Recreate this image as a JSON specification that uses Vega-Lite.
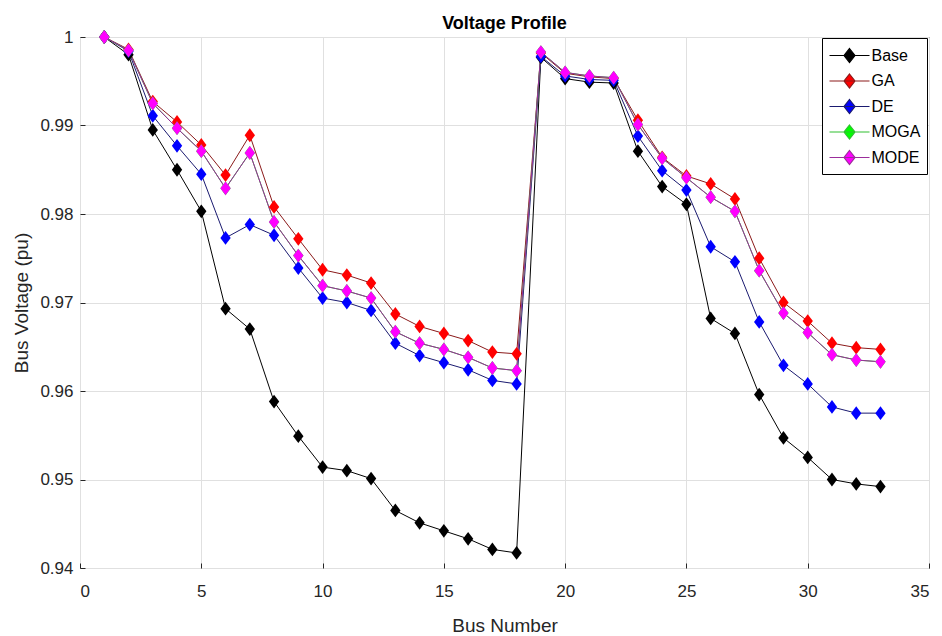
{
  "$schema": "https://vega.github.io/schema/vega-lite/v6.json",
  "width": 849,
  "height": 531,
  "autosize": {"type": "none"},
  "padding": {"left": 80, "top": 37, "right": 13, "bottom": 68},
  "background": "white",
  "title": {"text": "Voltage Profile", "fontSize": 18, "fontWeight": "bold", "font": "Liberation Sans", "color": "#000000", "offset": -5, "anchor": "middle"},
  "config": {
    "font": "Liberation Sans",
    "view": {"stroke": "#262626", "strokeWidth": 1},
    "axis": {
      "domain": false,
      "grid": true,
      "gridColor": "#e0e0e0",
      "gridWidth": 1,
      "ticks": true,
      "tickSize": -5,
      "tickColor": "#262626",
      "labelFont": "Liberation Sans",
      "labelFontSize": 17,
      "labelColor": "#262626",
      "titleFont": "Liberation Sans",
      "titleFontSize": 19,
      "titleFontWeight": "normal",
      "titleColor": "#262626"
    },
    "legend": {
      "orient": "none",
      "legendX": 742,
      "legendY": 1,
      "symbolType": "M-2,0H2M0,-0.7L0.55,0L0,0.7L-0.55,0Z",
      "symbolSize": 400,
      "symbolStrokeWidth": 1.2,
      "symbolOpacity": 1,
      "labelFont": "Liberation Sans",
      "labelFontSize": 16,
      "labelColor": "#000000",
      "padding": 6.5,
      "rowPadding": 4.5,
      "strokeColor": "#000000",
      "fillColor": "#ffffff",
      "symbolOffset": 10,
      "labelOffset": 11
    }
  },
  "data": {"values": [
    {"bus": 1, "Base": 1.0, "GA": 1.0, "DE": 1.0, "MOGA": 1.0, "MODE": 1.0},
    {"bus": 2, "Base": 0.998, "GA": 0.9986, "DE": 0.9984, "MOGA": 0.9985, "MODE": 0.9985},
    {"bus": 3, "Base": 0.9895, "GA": 0.9927, "DE": 0.9911, "MOGA": 0.9925, "MODE": 0.9925},
    {"bus": 4, "Base": 0.985, "GA": 0.9904, "DE": 0.9877, "MOGA": 0.9897, "MODE": 0.9897},
    {"bus": 5, "Base": 0.9803, "GA": 0.9878, "DE": 0.9845, "MOGA": 0.9871, "MODE": 0.9871},
    {"bus": 6, "Base": 0.9693, "GA": 0.9844, "DE": 0.9773, "MOGA": 0.9829, "MODE": 0.9829},
    {"bus": 7, "Base": 0.967, "GA": 0.9889, "DE": 0.9788, "MOGA": 0.9869, "MODE": 0.9869},
    {"bus": 8, "Base": 0.9588, "GA": 0.9808, "DE": 0.9776, "MOGA": 0.9791, "MODE": 0.9791},
    {"bus": 9, "Base": 0.9549, "GA": 0.9772, "DE": 0.9739, "MOGA": 0.9753, "MODE": 0.9753},
    {"bus": 10, "Base": 0.9514, "GA": 0.9737, "DE": 0.9705, "MOGA": 0.9719, "MODE": 0.9719},
    {"bus": 11, "Base": 0.951, "GA": 0.9731, "DE": 0.97, "MOGA": 0.9713, "MODE": 0.9713},
    {"bus": 12, "Base": 0.9501, "GA": 0.9722, "DE": 0.9691, "MOGA": 0.9705, "MODE": 0.9705},
    {"bus": 13, "Base": 0.9465, "GA": 0.9687, "DE": 0.9654, "MOGA": 0.9667, "MODE": 0.9667},
    {"bus": 14, "Base": 0.9451, "GA": 0.9673, "DE": 0.964, "MOGA": 0.9654, "MODE": 0.9654},
    {"bus": 15, "Base": 0.9442, "GA": 0.9665, "DE": 0.9632, "MOGA": 0.9647, "MODE": 0.9647},
    {"bus": 16, "Base": 0.9433, "GA": 0.9657, "DE": 0.9624, "MOGA": 0.9638, "MODE": 0.9638},
    {"bus": 17, "Base": 0.9421, "GA": 0.9644, "DE": 0.9612, "MOGA": 0.9626, "MODE": 0.9626},
    {"bus": 18, "Base": 0.9417, "GA": 0.9642, "DE": 0.9608, "MOGA": 0.9623, "MODE": 0.9623},
    {"bus": 19, "Base": 0.9977, "GA": 0.9982, "DE": 0.9978, "MOGA": 0.9983, "MODE": 0.9983},
    {"bus": 20, "Base": 0.9953, "GA": 0.9959, "DE": 0.9956, "MOGA": 0.996, "MODE": 0.996},
    {"bus": 21, "Base": 0.9949, "GA": 0.9955, "DE": 0.9952, "MOGA": 0.9956, "MODE": 0.9956},
    {"bus": 22, "Base": 0.9948, "GA": 0.9953, "DE": 0.9951, "MOGA": 0.9954, "MODE": 0.9954},
    {"bus": 23, "Base": 0.9871, "GA": 0.9906, "DE": 0.9888, "MOGA": 0.9901, "MODE": 0.9901},
    {"bus": 24, "Base": 0.9831, "GA": 0.9864, "DE": 0.9849, "MOGA": 0.9863, "MODE": 0.9863},
    {"bus": 25, "Base": 0.9811, "GA": 0.9843, "DE": 0.9827, "MOGA": 0.9841, "MODE": 0.9841},
    {"bus": 26, "Base": 0.9682, "GA": 0.9834, "DE": 0.9763, "MOGA": 0.9819, "MODE": 0.9819},
    {"bus": 27, "Base": 0.9665, "GA": 0.9817, "DE": 0.9746, "MOGA": 0.9803, "MODE": 0.9803},
    {"bus": 28, "Base": 0.9596, "GA": 0.975, "DE": 0.9678, "MOGA": 0.9736, "MODE": 0.9736},
    {"bus": 29, "Base": 0.9547, "GA": 0.97, "DE": 0.9629, "MOGA": 0.9688, "MODE": 0.9688},
    {"bus": 30, "Base": 0.9525, "GA": 0.9679, "DE": 0.9608, "MOGA": 0.9666, "MODE": 0.9666},
    {"bus": 31, "Base": 0.95, "GA": 0.9654, "DE": 0.9582, "MOGA": 0.9641, "MODE": 0.9641},
    {"bus": 32, "Base": 0.9495, "GA": 0.9649, "DE": 0.9575, "MOGA": 0.9635, "MODE": 0.9635},
    {"bus": 33, "Base": 0.9492, "GA": 0.9647, "DE": 0.9575, "MOGA": 0.9633, "MODE": 0.9633}
  ]},
  "transform": [{"fold": ["Base", "GA", "DE", "MOGA", "MODE"], "as": ["series", "v"]}],
  "encoding": {
    "x": {"field": "bus", "type": "quantitative", "scale": {"domain": [0, 35], "nice": false, "zero": false},
      "axis": {"values": [0, 5, 10, 15, 20, 25, 30, 35], "title": "Bus Number", "labelPadding": 20, "titlePadding": 17}},
    "y": {"field": "v", "type": "quantitative", "scale": {"domain": [0.94, 1.0], "nice": false, "zero": false},
      "axis": {"values": [0.94, 0.95, 0.96, 0.97, 0.98, 0.99, 1.0], "format": ".2~f", "title": "Bus Voltage (pu)", "labelPadding": 12, "titlePadding": 8}}
  },
  "layer": [
    {
      "mark": {"type": "line", "strokeWidth": 1},
      "encoding": {
        "stroke": {"field": "series", "type": "nominal",
          "scale": {"domain": ["MODE", "MOGA", "DE", "GA", "Base"], "range": ["#9b2d9b", "#30c030", "#1a1a70", "#8b1a1a", "#000000"]},
          "legend": null}
      }
    },
    {
      "mark": {"type": "point", "filled": true, "opacity": 1, "size": 190, "shape": "M0,-1L0.75,0L0,1L-0.75,0Z"},
      "encoding": {
        "color": {"field": "series", "type": "nominal", "title": null,
          "scale": {"domain": ["Base", "GA", "DE", "MOGA", "MODE"], "range": ["#000000", "#ff0000", "#0000ff", "#00ff00", "#ff00ff"]},
          "legend": {
            "encode": {"symbols": {"update": {"stroke": {"scale": "stroke", "field": "value"}}}}
          }
        }
      }
    }
  ]
}
